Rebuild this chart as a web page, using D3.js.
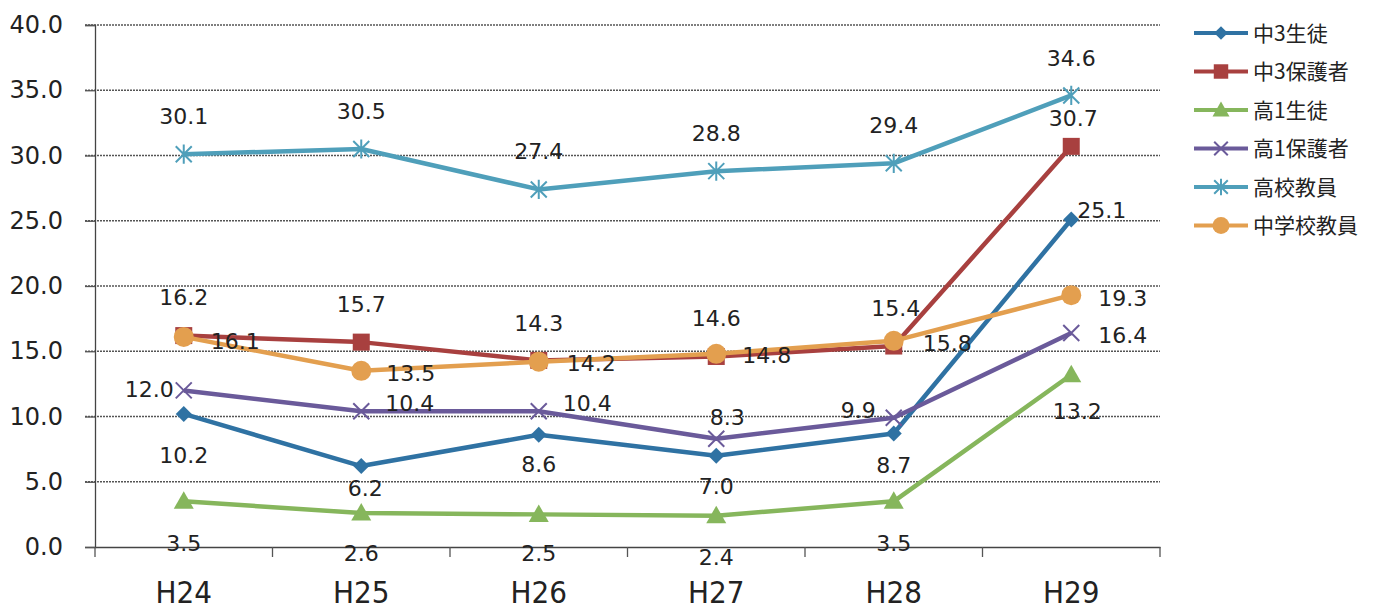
<!DOCTYPE html>
<html><head><meta charset="utf-8">
<script src="https://cdn.jsdelivr.net/npm/d3@7"></script>
<style>body{margin:0;background:#fff;} svg{display:block;}</style>
</head><body>
<svg id="chart" width="1386" height="609"></svg>
<script>
const categories = ["H24","H25","H26","H27","H28","H29"];
const seriesNames = ["中3生徒","中3保護者","高1生徒","高1保護者","高校教員","中学校教員"];
const s1 = [10.2, 6.2, 8.6, 7.0, 8.7, 25.1];
const s2 = [16.2, 15.7, 14.3, 14.6, 15.4, 30.7];
const s3 = [3.5, 2.6, 2.5, 2.4, 3.5, 13.2];
const s4 = [12.0, 10.4, 10.4, 8.3, 9.9, 16.4];
const s5 = [30.1, 30.5, 27.4, 28.8, 29.4, 34.6];
const s6 = [16.1, 13.5, 14.2, 14.8, 15.8, 19.3];
const yTicks = [0,5,10,15,20,25,30,35,40];

(function(){
const colors = ["#2f72a3","#a8403f","#86b65c","#6a5a9a","#4f9fba","#e39f4f"];
const markers = ["diamond","square","triangle","x","asterisk","circle"];
// label placement: [dx, dy, anchor] relative to the point (styling only)
const C = "middle", S = "start", E = "end";
const labelPos = [
  [[0,41,C],[4,22,C],[0,30,C],[0,31,C],[0,32,C],[6,-9,S]],
  [[0,-38,C],[0,-38,C],[0,-37,C],[0,-38,C],[2,-38,C],[2,-28,C]],
  [[0,42,C],[0,40,C],[0,39,C],[0,42,C],[0,42,C],[6,37,C]],
  [[-10,-1,E],[24,-8,S],[24,-8,S],[11,-21,C],[-18,-8,E],[27,2,S]],
  [[0,-38,C],[0,-38,C],[0,-38,C],[0,-38,C],[0,-38,C],[0,-37,C]],
  [[27,4,S],[25,2,S],[28,2,S],[26,1,S],[29,2,S],[27,3,S]]
];
const allSeries = [s1,s2,s3,s4,s5,s6];

const svg = d3.select("#chart");
const mLeft = 95, mRight = 1160, mTop = 25, mBottom = 547;
const x = d3.scaleBand().domain(categories).range([mLeft, mRight]);
const y = d3.scaleLinear().domain([0,40]).range([mBottom, mTop]);
const cx = c => x(c) + x.bandwidth()/2;

svg.append("g").selectAll("line").data(yTicks.filter(d=>d>0)).join("line")
  .attr("x1", mLeft-10).attr("x2", mRight).attr("y1", d=>y(d)).attr("y2", d=>y(d))
  .attr("stroke","#555").attr("stroke-width",1.3).attr("stroke-dasharray","2,1");

const yAxis = d3.axisLeft(y).tickValues(yTicks).tickFormat(d3.format(".1f")).tickSize(10).tickPadding(22);
const gy = svg.append("g").attr("transform",`translate(${mLeft},0)`).call(yAxis);
gy.select(".domain").attr("stroke","#444").attr("stroke-width",1.3);
gy.selectAll(".tick line").attr("stroke","#555").attr("stroke-width",1.3);
gy.selectAll("text").attr("font-family","DejaVu Sans, sans-serif").attr("font-size",24).attr("fill","#222");

const xAxis = d3.axisBottom(x).tickSize(0).tickPadding(0);
const gx = svg.append("g").attr("transform",`translate(0,${mBottom})`).call(xAxis);
gx.select(".domain").attr("stroke","#444").attr("stroke-width",1.3);
gx.selectAll(".tick text").attr("dy",null).attr("y",56)
  .attr("font-family","DejaVu Sans Condensed, DejaVu Sans, sans-serif").attr("font-size",31).attr("fill","#222");
const bounds = categories.map(c=>x(c)).concat([mRight]);
gx.append("g").selectAll("line").data(bounds).join("line")
  .attr("x1",d=>d).attr("x2",d=>d).attr("y1",0).attr("y2",10).attr("stroke","#555").attr("stroke-width",1.3);

function drawMarker(g, type, color, px, py, scale) {
  const k = scale || 1;
  if (type==="diamond") {
    const r = 8*k;
    g.append("path").attr("d",`M${px},${py-r}L${px+r},${py}L${px},${py+r}L${px-r},${py}Z`).attr("fill",color);
  } else if (type==="square") {
    const r = 8.5*k;
    g.append("rect").attr("x",px-r).attr("y",py-r).attr("width",2*r).attr("height",2*r).attr("fill",color);
  } else if (type==="triangle") {
    const r = 10*k;
    g.append("path").attr("d",`M${px},${py-r}L${px+r},${py+r*0.75}L${px-r},${py+r*0.75}Z`).attr("fill",color);
  } else if (type==="x") {
    const r = 8*k;
    g.append("path").attr("d",`M${px-r},${py-r}L${px+r},${py+r}M${px-r},${py+r}L${px+r},${py-r}`).attr("stroke",color).attr("stroke-width",2).attr("fill","none");
  } else if (type==="asterisk") {
    const r = 8*k;
    g.append("path").attr("d",`M${px-r},${py-r}L${px+r},${py+r}M${px-r},${py+r}L${px+r},${py-r}M${px},${py-r*1.2}L${px},${py+r*1.2}`).attr("stroke",color).attr("stroke-width",2).attr("fill","none");
  } else if (type==="circle") {
    g.append("circle").attr("cx",px).attr("cy",py).attr("r",10*k).attr("fill",color);
  }
}

const line = d3.line().x((d,i)=>cx(categories[i])).y(d=>y(d));
allSeries.forEach((vals, si) => {
  const g = svg.append("g");
  g.append("path").datum(vals).attr("d",line).attr("fill","none")
    .attr("stroke",colors[si]).attr("stroke-width",4.5).attr("stroke-linejoin","round");
  vals.forEach((v,i)=>drawMarker(g, markers[si], colors[si], cx(categories[i]), y(v)));
});

allSeries.forEach((vals, si) => {
  vals.forEach((v,i) => {
    const px = cx(categories[i]), py = y(v);
    const [dx, dy, anchor] = labelPos[si][i];
    svg.append("text").attr("x",px+dx).attr("y",py+dy).attr("dy","0.35em")
      .attr("text-anchor",anchor).attr("font-family","DejaVu Sans, sans-serif")
      .attr("font-size",22).attr("fill","#222").text(d3.format(".1f")(v));
  });
});

const lg = svg.append("g");
seriesNames.forEach((name, si) => {
  const ly = 33 + si*38.5;
  lg.append("line").attr("x1",1194).attr("x2",1248).attr("y1",ly).attr("y2",ly)
    .attr("stroke",colors[si]).attr("stroke-width",4);
  drawMarker(lg, markers[si], colors[si], 1221, ly, 0.85);
  lg.append("text").attr("x",1253).attr("y",ly).attr("dy","0.36em")
    .attr("font-family","Noto Sans CJK JP, sans-serif").attr("font-size",21).attr("fill","#222").text(name);
});
})();
</script>
</body></html>
